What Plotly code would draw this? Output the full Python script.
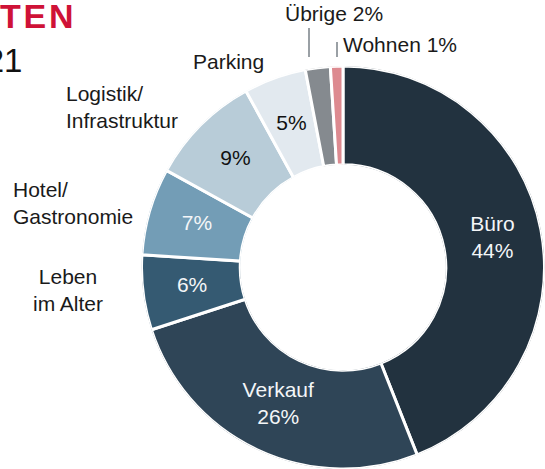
import plotly.graph_objects as go

# Data
categories = ["Büro", "Verkauf", "Leben im Alter", "Hotel/Gastronomie",
              "Logistik/Infrastruktur", "Parking", "Übrige", "Wohnen"]
values = [44, 26, 6, 7, 9, 5, 2, 1]
colors = ["#22323f", "#2f4557", "#355a72", "#739db6",
          "#b8ccd8", "#e2e9ef", "#858a8f", "#dd8a90"]
inside_names = {"Büro": "Büro", "Verkauf": "Verkauf"}
outside_labels = ["Parking", "Logistik/<br>Infrastruktur", "Hotel/<br>Gastronomie",
                  "Leben<br>im Alter", "Übrige 2%", "Wohnen 1%"]
title_fragment = "T\u200aE\u200aN"
subtitle_fragment = "2021"

W, H = 545, 469
cx, cy, R = 343, 268, 202
HOLE = 0.51
domain = dict(x=[(cx - R) / W, 1.0], y=[0, (H - cy + R) / H])

# slice geometry in degrees (clockwise from 12 o'clock), derived from the values
total = sum(values)
text, text_colors, thetas, widths = [], [], [], []
cum = 0
for c, v in zip(categories, values):
    thetas.append((cum + v / 2) / total * 360)
    widths.append(v / total * 360)
    cum += v
    if c in ("Übrige", "Wohnen"):
        text.append("")
    elif c in inside_names:
        text.append(f"{inside_names[c]}<br>{v}%")
    else:
        text.append(f"{v}%")
    text_colors.append("#111111" if c in ("Logistik/Infrastruktur", "Parking") else "#f4f6f8")

fig = go.Figure()
fig.add_trace(go.Barpolar(
    theta=thetas,
    width=widths,
    r=[1] * len(values),
    marker=dict(color=colors, line=dict(color="white", width=3)),
    customdata=values,
    text=categories,
    hovertemplate="%{text}: %{customdata}%<extra></extra>",
    showlegend=False,
))
fig.add_trace(go.Scatterpolar(
    theta=thetas,
    r=[0.5] * len(values),
    mode="text",
    text=text,
    textposition="middle center",
    textfont=dict(family="Liberation Sans, Arial", size=21, color=text_colors),
    showlegend=False,
    hoverinfo="skip",
))

font = dict(family="Liberation Sans, Arial", size=21, color="#1a1a1a")

def px(x):
    return x / W

def py(y):
    return 1 - y / H

ann = [
    dict(text=outside_labels[0], x=px(228), y=py(61), xanchor="center", yanchor="middle", align="center"),
    dict(text=outside_labels[1], x=px(64), y=py(107), xanchor="left", yanchor="middle", align="left"),
    dict(text=outside_labels[2], x=px(11), y=py(203), xanchor="left", yanchor="middle", align="left"),
    dict(text=outside_labels[3], x=px(68), y=py(290), xanchor="center", yanchor="middle", align="center"),
    dict(text=outside_labels[4], x=px(334), y=py(14), xanchor="center", yanchor="middle", align="center"),
    dict(text=outside_labels[5], x=px(341), y=py(45), xanchor="left", yanchor="middle", align="left"),
]
for a in ann:
    a.update(xref="paper", yref="paper", showarrow=False, font=font)

# Cropped title fragments
ann.append(dict(text=f"<b>{title_fragment}</b>", x=px(-2), y=py(16), xref="paper", yref="paper",
                xanchor="left", yanchor="middle", showarrow=False,
                font=dict(family="Liberation Sans, Arial", size=34, color="#cf1237")))
ann.append(dict(text=subtitle_fragment, x=px(24), y=py(60), xref="paper", yref="paper",
                xanchor="right", yanchor="middle", showarrow=False,
                font=dict(family="Liberation Sans, Arial", size=33, color="#111111")))

shapes = [
    dict(type="line", xref="paper", yref="paper", x0=px(309), x1=px(309), y0=py(28), y1=py(57),
         line=dict(color="#9aa0a5", width=2)),
    dict(type="line", xref="paper", yref="paper", x0=px(337), x1=px(337), y0=py(42), y1=py(57),
         line=dict(color="#9aa0a5", width=2)),
]

fig.update_layout(
    width=W, height=H, autosize=False,
    margin=dict(l=0, r=0, t=0, b=0),
    paper_bgcolor="white", plot_bgcolor="white",
    annotations=ann, shapes=shapes,
    polar=dict(
        domain=domain,
        hole=HOLE,
        bgcolor="rgba(0,0,0,0)",
        radialaxis=dict(range=[0, 1], visible=False, showgrid=False),
        angularaxis=dict(rotation=90, direction="clockwise", visible=False, showgrid=False),
        bargap=0,
    ),
)

fig.write_html("out.html", config={"displayModeBar": False},
               post_script="document.body.style.margin='0';document.body.style.overflow='hidden';")
